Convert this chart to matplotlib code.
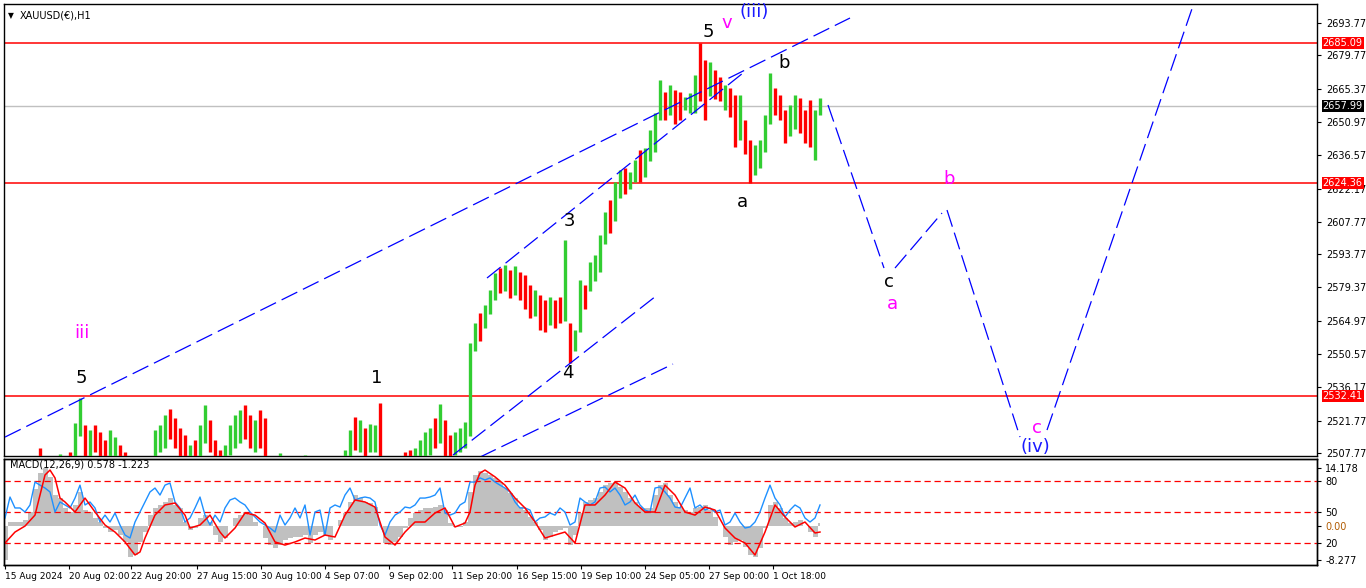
import matplotlib.pyplot as plt
from matplotlib import transforms
import numpy as np

# ---- price scale ----
price_ticks = [2693.77, 2679.77, 2665.37, 2650.97, 2636.57, 2622.17, 2607.77,
               2593.77, 2579.37, 2564.97, 2550.57, 2536.17, 2521.77, 2507.77]
red_levels = [2685.09, 2624.36, 2532.41]
last_price = 2657.99

# ---- H1 bars (one every 5 hours) ----
bar_x = np.arange(5, 821, 5)
highs = [2498, 2497, 2499, 2500, 2498, 2499, 2501, 2509.9, 2503, 2502,
         2504, 2507.3, 2506, 2508.2, 2520.7, 2531.5, 2519.9, 2517.7, 2519.9, 2516.8,
         2513.4, 2517.7, 2514.7, 2511.3, 2508.2, 2504, 2502, 2501, 2503, 2506,
         2517.7, 2519.9, 2524.2, 2526.8, 2522.9, 2518.6, 2515.5, 2511.2, 2513.4, 2519.9,
         2528.5, 2522.0, 2513.4, 2509.0, 2511.2, 2519.9, 2524.2, 2526.4, 2528.5, 2524.2,
         2522.0, 2526.4, 2522.9, 2503, 2501, 2507.7, 2502, 2501, 2503, 2504,
         2506.9, 2503, 2502, 2501, 2503, 2504, 2503, 2505, 2509.0, 2517.7,
         2523.4, 2522.0, 2518.6, 2520.3, 2519.9, 2529.4, 2504, 2502, 2501, 2503,
         2508.2, 2509.0, 2509.9, 2513.4, 2516.8, 2518.6, 2522.9, 2528.9, 2522.0, 2515.5,
         2516.8, 2518.6, 2521.2, 2555.3, 2564.0, 2568.3, 2571.8, 2578.3, 2585.6, 2587.8,
         2589.1, 2586.9, 2588.7, 2586.1, 2584.7, 2580.4, 2578.3, 2576.1, 2573.9, 2575.2,
         2573.9, 2575.2, 2599.9, 2564.0, 2561.0, 2582.6, 2580.4, 2590.3, 2593.5, 2602.1,
         2612.0, 2617.2, 2625.0, 2630.2, 2631.0, 2629.3, 2634.5, 2638.8, 2639.7, 2647.5,
         2654.8, 2669.1, 2663.9, 2666.9, 2664.8, 2663.9, 2661.8, 2663.5, 2671.3, 2685.1,
         2677.8, 2676.9, 2673.4, 2670.4, 2666.9, 2665.6, 2662.6, 2662.6, 2651.8, 2643.2,
         2641.0, 2643.2, 2654.0, 2672.1, 2665.6, 2662.6, 2656.1, 2658.3, 2662.6, 2661.3,
         2656.1, 2660.5, 2656.1, 2661.3]
lows = [2490, 2489, 2491, 2492, 2490, 2491, 2493, 2500, 2495, 2494,
        2496, 2499, 2498, 2500, 2505, 2515, 2500, 2505, 2508, 2506,
        2503, 2505, 2503, 2502, 2500, 2496, 2494, 2493, 2495, 2498,
        2505, 2508, 2510, 2514, 2510, 2506, 2503, 2502, 2502, 2506,
        2512, 2508, 2502, 2500, 2502, 2507, 2510, 2512, 2514, 2510,
        2508, 2510, 2500, 2495, 2493, 2500, 2494, 2493, 2495, 2496,
        2499, 2495, 2494, 2493, 2495, 2496, 2495, 2497, 2500, 2506,
        2509, 2508, 2506, 2508, 2508, 2500, 2496, 2494, 2493, 2495,
        2500, 2500, 2500, 2503, 2505, 2507, 2510, 2512, 2503, 2505,
        2507, 2508, 2510, 2515, 2552, 2556, 2562, 2568, 2574, 2577,
        2578, 2575, 2576, 2574, 2570, 2566, 2567, 2561, 2560, 2563,
        2562, 2564, 2565, 2546.7, 2552, 2560, 2570, 2578, 2582, 2586,
        2598, 2603, 2608, 2618, 2620, 2622, 2625, 2625, 2627, 2634,
        2638, 2652, 2652, 2654, 2650, 2652, 2656, 2655, 2655, 2660,
        2652, 2662, 2661, 2660, 2656, 2653, 2640, 2643, 2637, 2624.5,
        2628, 2631, 2638, 2650, 2654, 2652, 2642, 2645, 2648, 2646,
        2642, 2640, 2634.5, 2654]
updown = ("grggrggrrg" "ggrrggrgrr" "rggrrrgrgg" "gggrrrrgrg" "grrrggggrr"
          "grrrggrggr" "grgrggrggg" "rgrggrrgrg" "rrggggrgrr" "gggggrgggr"
          "grgrrrgrrg" "rrgrggrggg" "grggrggrgg" "ggrgrrgggr" "rgrrgrrgrr"
          "ggggrrrggr" "rrgg")

# ---- drawn trendlines (bar, price) ----
trendlines = [
    ((5, 2514.66), (850, 2695.93)),
    ((487, 2583.46), (743, 2672.14)),
    ((453, 2506.88), (656, 2575.67)),
    ((480, 2506.0), (673, 2546.25)),
    ((828, 2658.30), (884, 2587.78)),
    ((895, 2587.78), (942, 2611.58)),
    ((947, 2612.87), (1020, 2514.66)),
    ((1047, 2517.7), (1195, 2703.72)),
]

# ---- wave labels ----
waves = [
    ('5', 708, 2689.9, 'black'), ('v', 727, 2693.8, '#ff00ff'),
    ('(iii)', 754, 2698.5, '#1a1aff'), ('b', 784, 2676.5, 'black'),
    ('a', 742, 2616.3, 'black'), ('3', 569, 2608.1, 'black'),
    ('4', 568, 2542.4, 'black'), ('1', 377, 2540.2, 'black'),
    ('5', 81, 2540.2, 'black'), ('iii', 82, 2559.7, '#ff00ff'),
    ('c', 889, 2581.7, 'black'), ('a', 892, 2572.2, '#ff00ff'),
    ('b', 949, 2626.3, '#ff00ff'), ('c', 1037, 2518.5, '#ff00ff'),
    ('(iv)', 1035, 2510.3, '#1a1aff'),
]

# ---- MACD panel ----
hist = [-8.2, 1, 1, 1, 1.5, 3.4, 9, 13, 14, 12,
        7.5, 6.8, 4.3, 3.4, 5, 8.2, 3.9, 3.4, 2, 1,
        -0.5, -1.4, -1, -2.2, -3.9, -7.5, -7, -3.9, -1.4, 2.7,
        4.3, 5, 5.8, 6.8, 5, 4.3, 1, -1, -0.5, 1.9,
        2.7, 1, -2.2, -3.9, -2.9, 0, 1.9, 2.7, 3.4, 2.7,
        1, 0, -2.9, -4.6, -5.3, -4.6, -3.4, -2.9, -2.7, -2.7,
        -2.2, -4.1, -2.2, -1.4, -2.2, -3.4, 0, 1.4, 3.1, 5.8,
        7.5, 6.8, 5.8, 5.6, 4.6, 0, -4.1, -4.6, -3.9, -2.7,
        -0.5, 1.9, 3.1, 3.9, 4.3, 4.3, 4.6, 5, 3.9, 0.7,
        -0.2, -0.2, 1, 8.2, 12.3, 13.5, 13, 12.3, 11.6, 10.6,
        9.2, 8, 6.8, 4.6, 3.9, 2.2, 1, -1, -3.4, -2.7,
        -1.4, -1, -0.5, -4.6, -2.2, 3.1, 5.8, 6.3, 6.8, 8.2,
        9.9, 10.4, 10.6, 9.4, 8.2, 6.8, 5.8, 4.6, 4.3, 4.3,
        7.5, 9.9, 10.4, 7.5, 5.8, 4.6, 3.9, 3.4, 4.3, 4.6,
        5, 3.9, 2.2, 0, -2.7, -4.6, -3.9, -3.4, -5.1, -7,
        -7.5, -5.3, -0.5, 5, 5.8, 4.3, 1.9, 0.7, 1, 1.4,
        0, -1.4, -2.7, 0.7]
blue = [44.2, 64.5, 53.9, 53.9, 50, 56.8, 79, 76, 73.2, 69.4,
        50, 59.7, 56.8, 53.9, 63.5, 76, 56.8, 59.7, 53.9, 40.3,
        47, 40.3, 49, 37.4, 27.7, 24.8, 40.3, 50, 59.7, 69.4,
        73.2, 66.4, 76, 78, 59.7, 53.9, 40.3, 44.2, 53.9, 64.5,
        47, 37.4, 47, 40.3, 53.9, 61.6, 63.5, 59.7, 56.8, 50,
        45.2, 40.3, 37.4, 34.5, 30.6, 47, 37.4, 44.2, 53.9, 44.2,
        56.8, 27.7, 50, 51.9, 27.7, 53.9, 56.8, 54.8, 66.4, 73.2,
        61.6, 63.5, 64.5, 63.5, 59.7, 37.4, 27.7, 40.3, 47, 50,
        54.8, 53.9, 56.8, 63.5, 63.5, 64.5, 66.4, 73.2, 49, 47,
        49, 56.8, 59.7, 79, 79, 83, 81, 83, 79, 76,
        73.2, 69.4, 59.7, 53.9, 53.9, 51.9, 40.3, 44.2, 45.2, 49,
        47, 53.9, 50, 37.4, 40.3, 63.5, 59.7, 56.8, 59.7, 73.2,
        74.2, 69.4, 73.2, 66.4, 56.8, 59.7, 66.4, 56.8, 51.9, 50,
        73.2, 74.2, 69.4, 63.5, 54.8, 53.9, 63.5, 73.2, 53.9, 56.8,
        51.9, 53.9, 50, 51.9, 37.4, 40.3, 49, 40.3, 34.5, 35.5,
        40.3, 50, 63.5, 76, 63.5, 56.8, 45.2, 51.9, 56.8, 53.9,
        44.2, 40.3, 44.2, 56.8]
red_x = [5, 15, 25, 35, 40, 45, 50, 55, 60, 65, 75, 85, 95, 105, 115, 125, 135,
         140, 145, 155, 165, 175, 185, 190, 200, 210, 220, 225, 235, 245, 255,
         265, 275, 285, 295, 305, 315, 325, 335, 345, 355, 365, 375, 385, 395,
         405, 415, 425, 435, 445, 455, 465, 470, 475, 480, 485, 495, 505, 515,
         525, 535, 545, 555, 565, 575, 585, 595, 605, 615, 625, 635, 645, 655,
         665, 675, 685, 695, 705, 715, 725, 735, 745, 755, 765, 775, 785, 795,
         805, 815, 820]
red = [20, 30.6, 36.4, 47, 66.4, 85.8, 90.6, 83, 63.5, 59.7, 50, 63.5, 50, 37.4,
       30.6, 21, 8.4, 11.3, 24.8, 47, 56.8, 58.7, 47, 34.5, 37.4, 47, 30.6, 24.8,
       34.5, 49, 47, 39.3, 21, 18, 21, 24.8, 22.9, 27.7, 25.8, 47, 61.6, 59.7,
       54.8, 25.8, 18, 30.6, 40.3, 40.3, 49, 53.9, 35.5, 39.3, 50, 76, 87.7, 90.6,
       84, 76, 63.5, 53.9, 40.3, 24.8, 27.7, 30.6, 20, 56.8, 56.8, 66.4, 79, 73.2,
       58.7, 50, 50, 76, 66.4, 50, 47, 54.8, 51.9, 34.5, 24.8, 20, 8.4, 30.6,
       56.8, 45.2, 35.5, 40.3, 29.7, 30.6]
levels = [80, 50, 20]
macd_marks = [14.178, 0.0, -8.277]

date_x = [5, 69, 131, 197, 261, 325, 389, 452, 517, 581, 645, 709, 773]
date_lbl = ['15 Aug 2024', '20 Aug 02:00', '22 Aug 20:00', '27 Aug 15:00',
            '30 Aug 10:00', '4 Sep 07:00', '9 Sep 02:00', '11 Sep 20:00',
            '16 Sep 15:00', '19 Sep 10:00', '24 Sep 05:00', '27 Sep 00:00',
            '1 Oct 18:00']

# ---- figure ----
W, H = 1366, 588
fig = plt.figure(figsize=(W / 100, H / 100), dpi=100)
plt.rcParams['font.family'] = ['DejaVu Sans']


def box(l, t, r, b):
    return [l / W, 1 - b / H, (r - l) / W, (b - t) / H]


ax = fig.add_axes(box(4, 4, 1317, 456))
mx = fig.add_axes(box(4, 459, 1317, 565))
mt = mx.twinx()

# main chart
ax.set_xlim(4, 1317)
ax.set_ylim(2506.47, 2701.99)
for lv in red_levels:
    ax.axhline(lv, color='red', lw=1.1, zorder=1)
ax.axhline(last_price, color='#c0c0c0', lw=1, zorder=1)

cols = ['#32cd32' if c == 'g' else '#ff0000' for c in updown]
ax.vlines(bar_x, lows, highs, colors=cols, lw=2.4, zorder=3)

for (x0, p0), (x1, p1) in trendlines:
    ax.plot([x0, x1], [p0, p1], color='#0000ff', lw=0.9, dashes=(14, 5), zorder=4)

for txt, x, p, c in waves:
    ax.text(x, p, txt, color=c, fontsize=13, ha='center', va='center', zorder=5)

ax.text(8, 2697.0, '\u25bc', fontsize=5.5, va='center')
ax.text(20, 2697.0, 'XAUUSD(\u20ac),H1', fontsize=7, va='center')

ax.yaxis.tick_right()
ax.set_yticks(price_ticks)
ax.set_yticklabels(['%.2f' % v for v in price_ticks])
ax.tick_params(axis='y', labelsize=7, length=3, pad=4)
ax.set_xticks([])

tr = transforms.blended_transform_factory(ax.transAxes, ax.transData)
for lv in red_levels:
    ax.annotate('%.2f' % lv, xy=(1, lv), xycoords=tr, xytext=(4, 0),
                textcoords='offset points', fontsize=7, color='white',
                va='center', ha='left', annotation_clip=False,
                bbox=dict(boxstyle='square,pad=0.1', fc='red', ec='none'))
ax.annotate('%.2f' % last_price, xy=(1, last_price), xycoords=tr, xytext=(4, 0),
            textcoords='offset points', fontsize=7, color='white',
            va='center', ha='left', annotation_clip=False,
            bbox=dict(boxstyle='square,pad=0.1', fc='black', ec='none'))

# MACD panel: histogram in MACD units, lines on 0-100 scale
mx.set_xlim(4, 1317)
mx.set_ylim(-9.5, 16.3)
mx.fill_between(bar_x, 0, hist, step='mid', color='#c0c0c0', lw=0)
mx.yaxis.tick_right()
mx.set_yticks(macd_marks)
mx.set_yticklabels(['14.178', '0.00', '-8.277'])
mx.get_yticklabels()[1].set_color('#b05a00')
mx.tick_params(axis='y', labelsize=7, length=3, pad=3)

mt.set_ylim(-1.3, 101.3)
for lv in levels:
    mt.axhline(lv, color='red', lw=0.9, dashes=(5, 3))
mt.plot(bar_x, blue, color='#1e90ff', lw=1.0)
mt.plot(red_x, red, color='red', lw=1.1)
mt.set_yticks(levels)
mt.set_yticklabels([str(v) for v in levels])
mt.tick_params(axis='y', labelsize=7, length=3, pad=3)

mx.set_xticks(date_x)
mx.set_xticklabels(date_lbl)
for lb in mx.get_xticklabels():
    lb.set_horizontalalignment('left')
mx.tick_params(axis='x', labelsize=6.5, length=3, pad=2)

mx.text(10, 15.0, 'MACD(12,26,9) 0.578 -1.223', fontsize=7, va='center')

for a in (ax, mx, mt):
    for s in a.spines.values():
        s.set_color('black')
        s.set_linewidth(1)

fig.savefig('out.png', dpi=100)
